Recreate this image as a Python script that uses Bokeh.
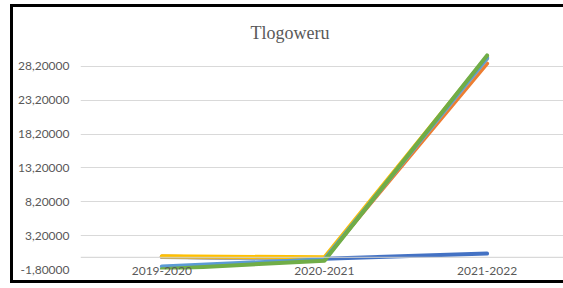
from bokeh.plotting import figure
from bokeh.models import Range1d, FixedTicker, Span
from bokeh.embed import file_html
from bokeh.resources import INLINE

# ---- data ----
categories = ["2019-2020", "2020-2021", "2021-2022"]
series_1 = [0.10, -0.20, 0.55]    # blue
series_2 = [0.10, -0.20, 28.60]   # orange
series_3 = [0.05, -0.25, 29.30]   # gray
series_4 = [0.15, 0.00, 29.60]    # yellow
series_5 = [-1.35, -0.30, 29.45]  # light blue
series_6 = [-1.75, -0.50, 29.80]  # green

y_ticks = [-1.8, 3.2, 8.2, 13.2, 18.2, 23.2, 28.2]
y_tick_labels = ["-1,80000", "3,20000", "8,20000", "13,20000",
                 "18,20000", "23,20000", "28,20000"]

series = [series_1, series_2, series_3, series_4, series_5, series_6]
colors = ["#4472C4", "#ED7D31", "#A5A5A5", "#FFC000", "#5B9BD5", "#70AD47"]

x = list(range(len(categories)))

p = figure(width=550, height=273, output_backend="svg", toolbar_location=None,
           x_range=Range1d(-0.5, 2.47), y_range=Range1d(-1.8, 30.23),
           min_border_left=67, min_border_right=0, min_border_top=45,
           min_border_bottom=11)

# black chart border (left, top, bottom) drawn as shadows outside the canvas
p.styles = {
    "margin-left": "13px",
    "margin-top": "7px",
    "box-shadow": ("-3px 0 0 0 #000, 0 -3px 0 0 #000, 0 3px 0 0 #000, "
                   "-3px -3px 0 0 #000, -3px 3px 0 0 #000"),
}

p.title.text = "Tlogoweru"
p.title.text_font = "Liberation Serif"
p.title.text_font_size = "18px"
p.title.text_font_style = "normal"
p.title.text_color = "#595959"
p.title.align = "left"
p.title.offset = 170
p.title.standoff = 20

p.outline_line_color = None
p.background_fill_color = "white"
p.border_fill_color = "white"

p.xgrid.grid_line_color = None
p.ygrid.grid_line_color = "#d9d9d9"
p.ygrid.grid_line_width = 1

zero = Span(location=0, dimension="width", line_color="#d0d0d0", line_width=1)
p.add_layout(zero)

for vals, c in zip(series, colors):
    p.line(x, vals, line_color=c, line_width=4, line_cap="round", line_join="round")

xa = p.xaxis[0]
xa.ticker = FixedTicker(ticks=x)
xa.major_label_overrides = {i: c for i, c in zip(x, categories)}
xa.axis_line_color = None
xa.major_tick_line_color = None
xa.minor_tick_line_color = None
xa.major_tick_out = 0
xa.major_label_standoff = -3
xa.major_label_text_font = "Lato"
xa.major_label_text_font_size = "12px"
xa.major_label_text_color = "#595959"

ya = p.yaxis[0]
ya.ticker = FixedTicker(ticks=y_ticks)
ya.major_label_overrides = {t: l for t, l in zip(y_ticks, y_tick_labels)}
ya.axis_line_color = None
ya.major_tick_line_color = None
ya.minor_tick_line_color = None
ya.major_tick_out = 0
ya.major_label_standoff = 11
ya.major_label_text_font = "Lato"
ya.major_label_text_font_size = "12px"
ya.major_label_text_color = "#595959"

open("out.html", "w").write(file_html(p, INLINE))
